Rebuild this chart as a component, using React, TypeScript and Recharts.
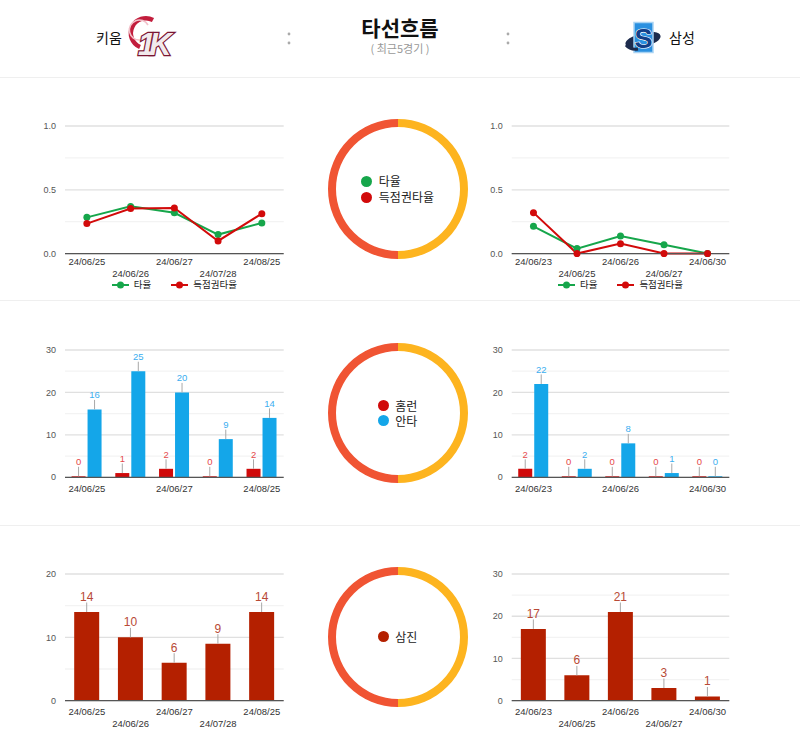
import React from 'react';
import {
  LineChart,
  BarChart,
  Line,
  Bar,
  XAxis,
  YAxis,
  CartesianGrid,
  LabelList,
  PieChart,
  Pie,
  Cell,
} from 'recharts';

const FONT = 'Arial, "Liberation Sans", "Noto Sans CJK KR", sans-serif';
const KFONT = '"Noto Sans CJK KR", "Noto Sans", Arial, sans-serif';

// ---- data: last five games per team ----
const kiwoomDates = ['24/06/25', '24/06/26', '24/06/27', '24/07/28', '24/08/25'];
const samsungDates = ['24/06/23', '24/06/25', '24/06/26', '24/06/27', '24/06/30'];

// batting average / average with runners in scoring position
const kiwoomAvg = [0.284, 0.37, 0.32, 0.149, 0.24];
const kiwoomRisp = [0.235, 0.353, 0.357, 0.099, 0.313];
const samsungAvg = [0.214, 0.039, 0.138, 0.07, 0];
const samsungRisp = [0.321, 0, 0.078, 0, 0];

// home runs / hits
const kiwoomHR = [0, 1, 2, 0, 2];
const kiwoomHits = [16, 25, 20, 9, 14];
const samsungHR = [2, 0, 0, 0, 0];
const samsungHits = [22, 2, 8, 1, 0];

// strikeouts
const kiwoomSO = [14, 10, 6, 9, 14];
const samsungSO = [17, 6, 21, 3, 1];

// axis ticks
const rateTicks = [0, 0.5, 1];
const rateMinor = [0.25, 0.75];
const count30Ticks = [0, 10, 20, 30];
const count30Minor = [5, 15, 25];
const count20Ticks = [0, 10, 20];
const count20Minor = [5, 15];

// ring halves: home side / away side
const sideShare = [
  { team: '키움', value: 1 },
  { team: '삼성', value: 1 },
];

const C = {
  avg: '#16a64b',
  risp: '#d20a0a',
  hr: '#d00a0a',
  hrLabel: '#e5484a',
  hits: '#14a6e9',
  hitsLabel: '#3aaef0',
  so: '#b42000',
  soLabel: '#b84a36',
  ringLeft: '#f05433',
  ringRight: '#fdb41f',
  grid: '#e0e0e0',
  minor: '#f3f3f3',
  axis: '#555',
};

// ---- layout ----
const COLS = {
  left: { boxLeft: 10, plotLeft: 65, plotRight: 283.7 },
  right: { boxLeft: 456, plotLeft: 511.7, plotRight: 729.3 },
};
const ROWS = {
  rate: { plotTop: 125.7, plotBottom: 253.3, tickDy: [11.7, 23.3] },
  hits: { plotTop: 350, plotBottom: 477.3, tickDy: [14.3, 14.3] },
  so: { plotTop: 574, plotBottom: 700.7, tickDy: [14.6, 26.3] },
};
const BOX_W = 290;
const XAXIS_H = 32;
const TOP_PAD = 16;

type Col = keyof typeof COLS;
type Row = keyof typeof ROWS;

function boxFor(col: Col, row: Row) {
  const c = COLS[col];
  const r = ROWS[row];
  const top = r.plotTop - TOP_PAD;
  return {
    style: { position: 'absolute' as const, left: c.boxLeft, top },
    width: BOX_W,
    height: r.plotBottom - top + XAXIS_H,
    margin: { top: TOP_PAD, right: c.boxLeft + BOX_W - c.plotRight, bottom: 0, left: 0 },
    yWidth: c.plotLeft - c.boxLeft,
  };
}

const makeDateTick = (dys: number[]) => (p: any) => (
  <text
    x={p.x}
    y={p.y + dys[(p.index ?? 0) % 2]}
    textAnchor="middle"
    fontSize={9.5}
    fill="#333"
    fontFamily={FONT}
  >
    {p.payload.value}
  </text>
);

const yTickStyle = { fontSize: 9, fill: '#555', fontFamily: FONT };

const makeStemLabel = (color: string, fontSize: number, gap: number) => (p: any) => {
  const { x, y, width, value } = p;
  const cx = x + width / 2;
  return (
    <g>
      <line x1={cx} x2={cx} y1={y} y2={y - 9.5} stroke="#a8a8a8" strokeWidth={1} />
      <text x={cx} y={y - gap} textAnchor="middle" fontSize={fontSize} fill={color} fontFamily={FONT}>
        {value}
      </text>
    </g>
  );
};

// major grid on labelled ticks, fainter grid on the in-between values
const grids = (minor: number[]) => [
  <CartesianGrid key="minor" vertical={false} horizontalValues={minor} stroke={C.minor} strokeWidth={1.3} />,
  <CartesianGrid key="major" vertical={false} stroke={C.grid} strokeWidth={1.3} />,
];

function RateChart({ col, dates, avg, risp }: { col: Col; dates: string[]; avg: number[]; risp: number[] }) {
  const b = boxFor(col, 'rate');
  const data = dates.map((d, i) => ({ date: d, avg: avg[i], risp: risp[i] }));
  return (
    <div style={b.style}>
      <LineChart width={b.width} height={b.height} data={data} margin={b.margin}>
        {grids(rateMinor)}
        <XAxis
          dataKey="date"
          scale="band"
          interval={0}
          height={XAXIS_H}
          tickLine={false}
          tickSize={0}
          tickMargin={0}
          axisLine={{ stroke: C.axis, strokeWidth: 1.3 }}
          tick={makeDateTick(ROWS.rate.tickDy)}
        />
        <YAxis
          width={b.yWidth}
          domain={[0, 1]}
          ticks={rateTicks}
          tickFormatter={(v: number) => v.toFixed(1)}
          axisLine={false}
          tickLine={false}
          tickSize={0}
          tickMargin={9}
          tick={yTickStyle}
        />
        <Line
          dataKey="avg"
          stroke={C.avg}
          strokeWidth={2}
          dot={{ r: 3.5, fill: C.avg, stroke: C.avg, strokeWidth: 0 }}
          isAnimationActive={false}
        />
        <Line
          dataKey="risp"
          stroke={C.risp}
          strokeWidth={2}
          dot={{ r: 3.5, fill: C.risp, stroke: C.risp, strokeWidth: 0 }}
          isAnimationActive={false}
        />
      </LineChart>
    </div>
  );
}

function RateLegend({ col }: { col: Col }) {
  const c = COLS[col];
  const item = (color: string, label: string) => (
    <div style={{ display: 'flex', alignItems: 'center', marginRight: 20 }}>
      <svg width={17} height={8} style={{ marginRight: 5 }}>
        <line x1={0} x2={17} y1={4} y2={4} stroke={color} strokeWidth={2} />
        <circle cx={8.5} cy={4} r={3.5} fill={color} />
      </svg>
      <span>{label}</span>
    </div>
  );
  return (
    <div
      style={{
        position: 'absolute',
        left: c.plotLeft,
        width: c.plotRight - c.plotLeft + 20,
        top: 278,
        height: 13,
        display: 'flex',
        justifyContent: 'center',
        alignItems: 'center',
        fontFamily: KFONT,
        fontSize: 9.5,
        lineHeight: '13px',
        color: '#222',
      }}
    >
      {item(C.avg, '타율')}
      {item(C.risp, '득점권타율')}
    </div>
  );
}

function HitsChart({ col, dates, hr, hits }: { col: Col; dates: string[]; hr: number[]; hits: number[] }) {
  const b = boxFor(col, 'hits');
  const data = dates.map((d, i) => ({ date: d, hr: hr[i], hits: hits[i] }));
  return (
    <div style={b.style}>
      <BarChart width={b.width} height={b.height} data={data} margin={b.margin} barCategoryGap="15%" barGap={2}>
        {grids(count30Minor)}
        <XAxis
          dataKey="date"
          interval={1}
          height={XAXIS_H}
          tickLine={false}
          tickSize={0}
          tickMargin={0}
          axisLine={{ stroke: C.axis, strokeWidth: 1.3 }}
          tick={makeDateTick(ROWS.hits.tickDy)}
        />
        <YAxis
          width={b.yWidth}
          domain={[0, 30]}
          ticks={count30Ticks}
          axisLine={false}
          tickLine={false}
          tickSize={0}
          tickMargin={9}
          tick={yTickStyle}
        />
        <Bar dataKey="hr" fill={C.hr} minPointSize={1} isAnimationActive={false}>
          <LabelList dataKey="hr" content={makeStemLabel(C.hrLabel, 9.5, 11)} />
        </Bar>
        <Bar dataKey="hits" fill={C.hits} minPointSize={1} isAnimationActive={false}>
          <LabelList dataKey="hits" content={makeStemLabel(C.hitsLabel, 9.5, 11)} />
        </Bar>
      </BarChart>
    </div>
  );
}

function SoChart({
  col,
  dates,
  so,
  max,
  ticks,
  minor,
}: {
  col: Col;
  dates: string[];
  so: number[];
  max: number;
  ticks: number[];
  minor: number[];
}) {
  const b = boxFor(col, 'so');
  const data = dates.map((d, i) => ({ date: d, so: so[i] }));
  return (
    <div style={b.style}>
      <BarChart width={b.width} height={b.height} data={data} margin={b.margin} barCategoryGap="21%">
        {grids(minor)}
        <XAxis
          dataKey="date"
          interval={0}
          height={XAXIS_H}
          tickLine={false}
          tickSize={0}
          tickMargin={0}
          axisLine={{ stroke: C.axis, strokeWidth: 1.3 }}
          tick={makeDateTick(ROWS.so.tickDy)}
        />
        <YAxis
          width={b.yWidth}
          domain={[0, max]}
          ticks={ticks}
          axisLine={false}
          tickLine={false}
          tickSize={0}
          tickMargin={9}
          tick={yTickStyle}
        />
        <Bar dataKey="so" fill={C.so} isAnimationActive={false}>
          <LabelList dataKey="so" content={makeStemLabel(C.soLabel, 12, 11)} />
        </Bar>
      </BarChart>
    </div>
  );
}

function Ring({
  cx,
  cy,
  rowGap,
  items,
}: {
  cx: number;
  cy: number;
  rowGap: number;
  items: { color: string; label: string }[];
}) {
  const size = 150;
  return (
    <div style={{ position: 'absolute', left: cx - size / 2, top: cy - size / 2, width: size, height: size }}>
      <PieChart width={size} height={size} margin={{ top: 0, right: 0, bottom: 0, left: 0 }}>
        <Pie
          data={sideShare}
          dataKey="value"
          nameKey="team"
          cx="50%"
          cy="50%"
          innerRadius={62}
          outerRadius={70}
          startAngle={90}
          endAngle={450}
          stroke="none"
          isAnimationActive={false}
        >
          <Cell fill={C.ringLeft} />
          <Cell fill={C.ringRight} />
        </Pie>
      </PieChart>
      <div
        style={{
          position: 'absolute',
          left: 0,
          top: 0,
          width: size,
          height: size,
          display: 'flex',
          justifyContent: 'center',
          alignItems: 'center',
        }}
      >
        <div style={{ fontFamily: KFONT, fontSize: 12, color: '#222' }}>
          {items.map((it) => (
            <div
              key={it.label}
              style={{ display: 'flex', alignItems: 'center', height: rowGap, lineHeight: `${rowGap}px` }}
            >
              <span
                style={{
                  display: 'inline-block',
                  width: 11,
                  height: 11,
                  borderRadius: '50%',
                  background: it.color,
                  marginRight: 6.5,
                }}
              />
              <span>{it.label}</span>
            </div>
          ))}
        </div>
      </div>
    </div>
  );
}

function KiwoomLogo() {
  return (
    <svg
      width={56}
      height={48}
      viewBox="0 0 56 48"
      style={{ position: 'absolute', left: 128, top: 12, overflow: 'visible' }}
    >
      <path d="M 25 8 A 15 15 0 1 0 12 35" fill="none" stroke="#c21d3c" strokeWidth={4.5} />
      <path d="M 20 13 A 10 10 0 1 0 12 28" fill="none" stroke="#f2c0c9" strokeWidth={1.6} />
      <text
        x={10}
        y={43}
        fontSize={31}
        fontWeight={900}
        fontStyle="italic"
        fontFamily={FONT}
        fill="#f1eaec"
        stroke="#7a1532"
        strokeWidth={2.4}
        paintOrder="stroke"
        letterSpacing={-6}
      >
        1K
      </text>
    </svg>
  );
}

function SamsungLogo() {
  return (
    <svg width={40} height={38} viewBox="0 0 40 38" style={{ position: 'absolute', left: 624, top: 19 }}>
      <ellipse cx={19} cy={21} rx={18} ry={7} transform="rotate(-14 19 21)" fill="#1d2b4d" />
      <rect x={10} y={3.5} width={19} height={30} fill="#2a90e0" stroke="#a9d3f3" strokeWidth={1.5} />
      <text
        x={19.5}
        y={28.5}
        textAnchor="middle"
        fontSize={27}
        fontWeight={900}
        fontFamily={FONT}
        fill="#123f88"
        stroke="#ffffff"
        strokeWidth={1.2}
        paintOrder="stroke"
      >
        S
      </text>
      <path d="M 2 26 Q 6 31 14 30" fill="none" stroke="#1d2b4d" strokeWidth={3} />
    </svg>
  );
}

function Colon({ x }: { x: number }) {
  return (
    <svg width={6} height={16} style={{ position: 'absolute', left: x - 3, top: 31 }}>
      <circle cx={3} cy={3} r={1.4} fill="#aaa" />
      <circle cx={3} cy={12} r={1.4} fill="#aaa" />
    </svg>
  );
}

function Rule({ y }: { y: number }) {
  return <div style={{ position: 'absolute', left: 0, top: y, width: 800, height: 1, background: '#efefef' }} />;
}

export default function App() {
  return (
    <div
      style={{
        position: 'absolute',
        left: 0,
        top: 0,
        width: 800,
        height: 745,
        background: '#fff',
        overflow: 'hidden',
        fontFamily: KFONT,
      }}
    >
      {/* header */}
      <div style={{ position: 'absolute', left: 96, top: 28, fontSize: 14, lineHeight: '18px', color: '#111' }}>키움</div>
      <KiwoomLogo />
      <Colon x={289} />
      <div
        style={{
          position: 'absolute',
          left: 300,
          width: 200,
          top: 16,
          textAlign: 'center',
          fontSize: 21,
          fontWeight: 700,
          lineHeight: '22px',
          color: '#111',
        }}
      >
        타선흐름
      </div>
      <div
        style={{
          position: 'absolute',
          left: 300,
          width: 200,
          top: 43,
          textAlign: 'center',
          fontSize: 11,
          lineHeight: '11px',
          color: '#999',
        }}
      >
        ( 최근5경기 )
      </div>
      <Colon x={508} />
      <SamsungLogo />
      <div style={{ position: 'absolute', left: 669, top: 28, fontSize: 14, lineHeight: '18px', color: '#111' }}>삼성</div>
      <Rule y={77} />
      <Rule y={300} />
      <Rule y={525} />

      {/* batting average */}
      <RateChart col="left" dates={kiwoomDates} avg={kiwoomAvg} risp={kiwoomRisp} />
      <RateLegend col="left" />
      <Ring
        cx={397.7}
        cy={189.4}
        rowGap={16}
        items={[
          { color: C.avg, label: '타율' },
          { color: C.risp, label: '득점권타율' },
        ]}
      />
      <RateChart col="right" dates={samsungDates} avg={samsungAvg} risp={samsungRisp} />
      <RateLegend col="right" />

      {/* home runs and hits */}
      <HitsChart col="left" dates={kiwoomDates} hr={kiwoomHR} hits={kiwoomHits} />
      <Ring
        cx={397.5}
        cy={413.3}
        rowGap={15}
        items={[
          { color: C.hr, label: '홈런' },
          { color: C.hits, label: '안타' },
        ]}
      />
      <HitsChart col="right" dates={samsungDates} hr={samsungHR} hits={samsungHits} />

      {/* strikeouts */}
      <SoChart col="left" dates={kiwoomDates} so={kiwoomSO} max={20} ticks={count20Ticks} minor={count20Minor} />
      <Ring cx={397.5} cy={636.7} rowGap={16} items={[{ color: C.so, label: '삼진' }]} />
      <SoChart col="right" dates={samsungDates} so={samsungSO} max={30} ticks={count30Ticks} minor={count30Minor} />
    </div>
  );
}
